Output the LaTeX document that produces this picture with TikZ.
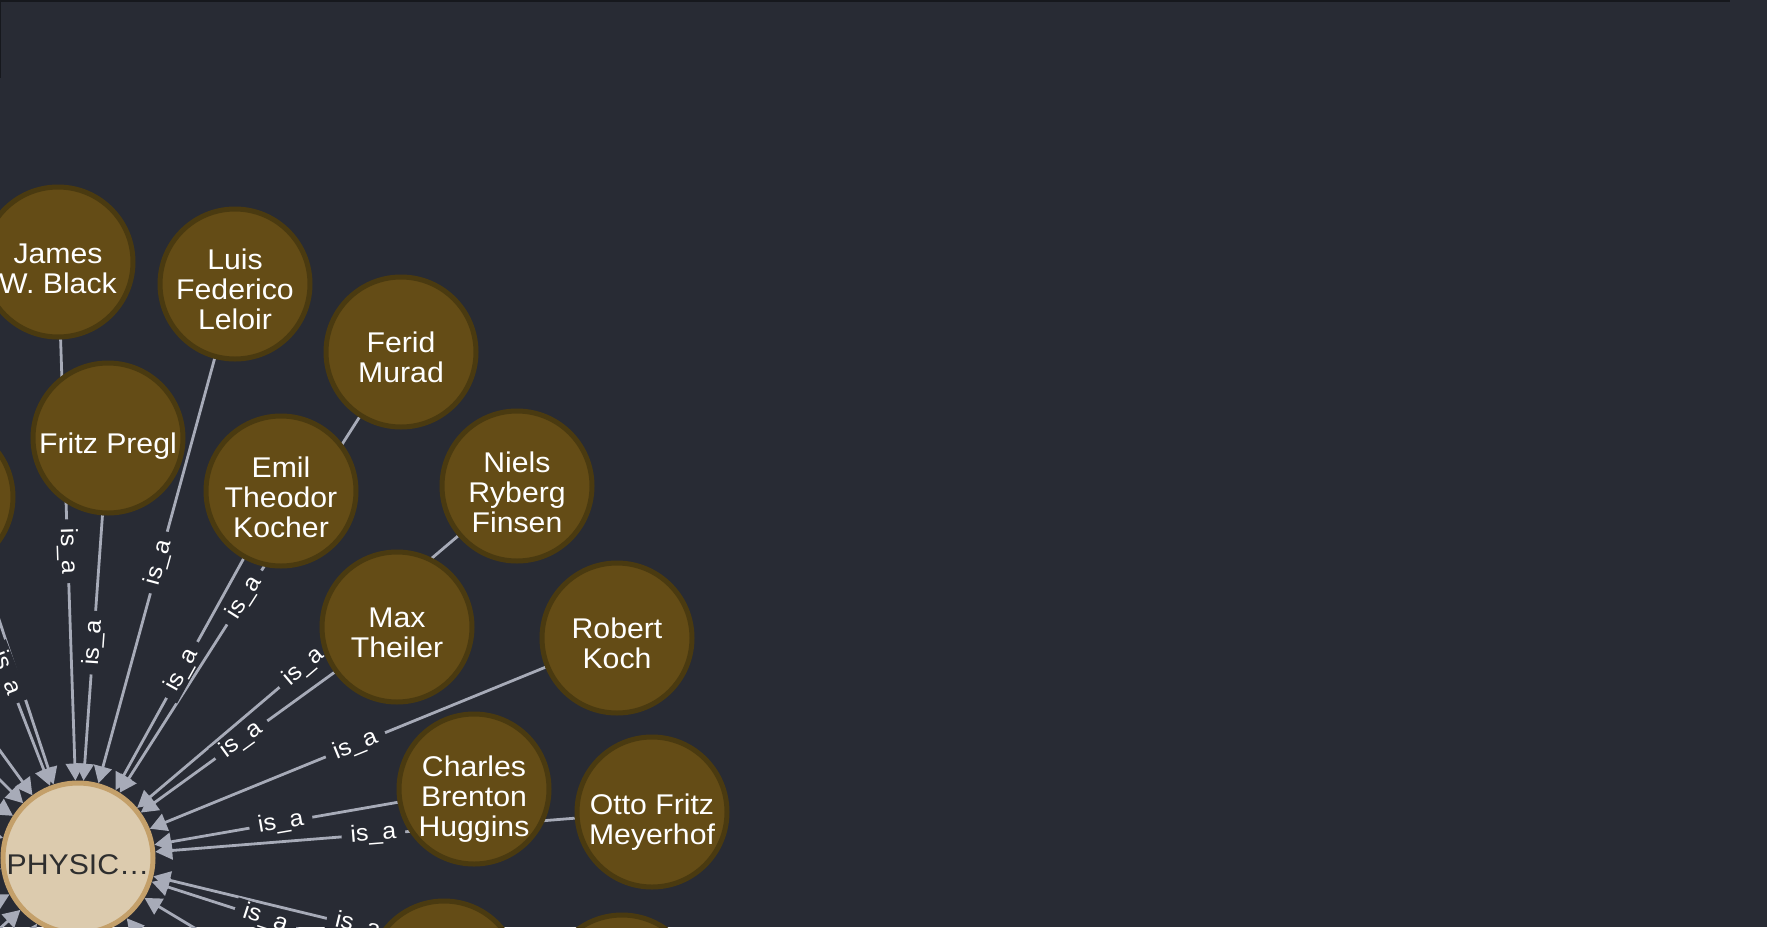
\documentclass[tikz,border=0pt]{standalone}
\usepackage{fontspec}
\setmainfont{Liberation Sans}[FakeStretch=1.06]
\usetikzlibrary{arrows.meta}
\definecolor{bgc}{HTML}{282B34}
\definecolor{topc}{HTML}{16181D}
\definecolor{edgec}{HTML}{A7ABB8}
\definecolor{brownf}{HTML}{644C16}
\definecolor{brownd}{HTML}{4A3A10}
\definecolor{hubf}{HTML}{DCCBAE}
\definecolor{hubd}{HTML}{C4A06A}
\definecolor{hubt}{HTML}{2E2E2E}
\pgfdeclarelayer{bg}
\pgfdeclarelayer{edges}
\pgfdeclarelayer{labels}
\pgfsetlayers{bg,edges,labels,main}
\tikzset{
  person/.style={circle, fill=brownf, draw=brownd, line width=5pt, minimum size=150pt, inner sep=0pt},
  hub/.style={circle, fill=hubf, draw=hubd, line width=5pt, minimum size=150pt, inner sep=0pt},
  ptext/.style={text=white, align=center, inner sep=0pt, font=\fontsize{28.5}{30}\selectfont,
    execute at begin node=\strut, execute at end node=\strut},
  htext/.style={ptext, text=hubt},
  link/.style={draw=edgec, line width=2.8pt, -{Triangle[length=17pt,width=18pt]}},
  lbl/.style={sloped, fill=bgc, text=white, font=\fontsize{23.5}{24}\selectfont, inner xsep=9pt, inner ysep=1pt},
}
\begin{document}
\begin{tikzpicture}[x=1pt,y=-1pt]
\useasboundingbox (0,0) rectangle (1767,927);
\begin{pgfonlayer}{bg}
  \fill[bgc] (0,0) rectangle (1767,927);
  \fill[topc] (0,0) rectangle (1730,2);
  \fill[topc] (0,0) rectangle (1.2,78);
\end{pgfonlayer}

% hub
\node[hub] (phys) at (78,858) {};
% visible people
\node[person] (james) at (58,262) {};
\node[person] (luis) at (235,284) {};
\node[person] (ferid) at (401,352) {};
\node[person] (fritz) at (108,438) {};
\node[person] (emil) at (281,491) {};
\node[person] (niels) at (517,486) {};
\node[person] (max) at (397,627) {};
\node[person] (robert) at (617,638) {};
\node[person] (charles) at (474,789) {};
\node[person] (otto) at (652,812) {};
\node[person] (bl) at (444,976) {};
\node[person] (br) at (622,990) {};
\node[person] (n1) at (-62,497) {};
% people outside the frame
\node[person] (n2) at (-205,4) {};
\node[person] (s3) at (-228,437) {};
\node[person] (s4) at (-290,490) {};
\node[person] (s5) at (-358,575) {};
\node[person] (s6) at (-424,723) {};
\node[person] (s7) at (-437,930) {};
\node[person] (s8) at (-381,1102) {};
\node[person] (s9) at (-308,1206) {};
\node[person] (s10) at (-198,1299) {};
\node[person] (s11) at (405,1262) {};
\node[person] (s12) at (524,1126) {};

% texts
\node[htext] (phys-t) at ([yshift=-10pt]phys.center) {PHYSIC…};
\node[ptext] (james-t) at ([yshift=-11.5pt]james.center) {James\\W. Black};
\node[ptext] (luis-t) at ([yshift=-10pt]luis.center) {Luis\\Federico\\Leloir};
\node[ptext] (ferid-t) at ([yshift=-10pt]ferid.center) {Ferid\\Murad};
\node[ptext] (fritz-t) at ([yshift=-9pt]fritz.center) {Fritz Pregl};
\node[ptext] (emil-t) at ([yshift=-11pt]emil.center) {Emil\\Theodor\\Kocher};
\node[ptext] (niels-t) at ([yshift=-11pt]niels.center) {Niels\\Ryberg\\Finsen};
\node[ptext] (max-t) at ([yshift=-10.5pt]max.center) {Max\\Theiler};
\node[ptext] (robert-t) at ([yshift=-10pt]robert.center) {Robert\\Koch};
\node[ptext] (charles-t) at ([yshift=-11.5pt]charles.center) {Charles\\Brenton\\Huggins};
\node[ptext] (otto-t) at ([yshift=-11.5pt]otto.center) {Otto Fritz\\Meyerhof};

\begin{pgfonlayer}{edges}
  \foreach \s in {n2,n1,s3,s4,s5,s6,s7,s8,s9,s10,james,fritz,luis,emil,ferid,max,niels,robert,charles,otto,br,bl,s12,s11}
    \draw[link] (\s) -- (phys);
\end{pgfonlayer}
\begin{pgfonlayer}{labels}
  \foreach \s in {n2,n1,s3,s4,s5,s6,s7,s8,s9,s10,james,fritz,luis,emil,ferid,max,niels,robert,charles,otto,br,bl,s12,s11}
    \path (\s) -- node[lbl,pos=0.48] (\s-l) {is\_a} (phys);
\end{pgfonlayer}
\end{tikzpicture}
\end{document}
